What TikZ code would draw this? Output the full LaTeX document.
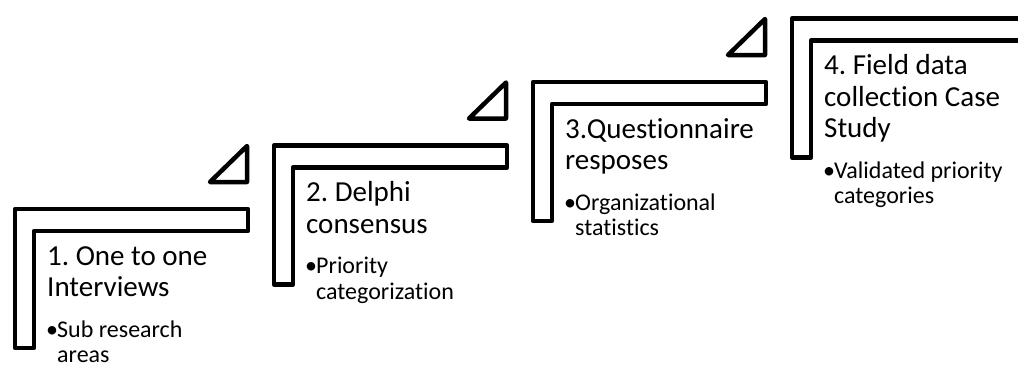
\documentclass[tikz,border=0pt]{standalone}
\usepackage{fontspec}
\setmainfont[Ligatures=NoCommon]{Carlito}
\frenchspacing
\tikzset{
  stepshape/.style={draw=black, line width=4.5pt, line join=round, fill=white},
  stepflag/.style={draw=black, line width=4.5pt, line join=round, fill=white},
  titletext/.style={font=\fontsize{29}{31.5}\selectfont, anchor=base west, inner sep=0pt, align=flush left, text width=230pt},
  bullettext/.style={font=\fontsize{24}{25.5}\selectfont, anchor=base west, inner sep=0pt, align=flush left, text width=230pt},
}
\newcommand{\bul}{\makebox[11pt][l]{•}}
\newcommand{\hang}{\hspace*{11pt}}
\begin{document}
\begin{tikzpicture}[x=1pt,y=-1pt]
\useasboundingbox (0,0) rectangle (1018,365);
\clip (0,0) rectangle (1018,365);
% step 1
\begin{scope}
  \draw[stepshape] (15,209) -- (248,209) -- (248,231) -- (34,231) -- (34,348) -- (15,348) -- cycle;
  \draw[stepflag] (247,146) -- (247,182) -- (210,182) -- cycle;
  \node[titletext] (t1) at (47,265) {1. One to one\\Interviews};
  \node[bullettext] (b1) at (46,337) {\bul Sub research\\\hang areas};
\end{scope}
% step 2
\begin{scope}[shift={(259,-63.5)}]
  \draw[stepshape] (15,209) -- (248,209) -- (248,231) -- (34,231) -- (34,348) -- (15,348) -- cycle;
  \draw[stepflag] (247,146) -- (247,182) -- (210,182) -- cycle;
  \node[titletext] (t2) at (47,265) {2. Delphi\\consensus};
  \node[bullettext] (b2) at (46,337) {\bul Priority\\\hang categorization};
\end{scope}
% step 3
\begin{scope}[shift={(518,-127)}]
  \draw[stepshape] (15,209) -- (248,209) -- (248,231) -- (34,231) -- (34,348) -- (15,348) -- cycle;
  \draw[stepflag] (247,146) -- (247,182) -- (210,182) -- cycle;
  \node[titletext] (t3) at (47,265) {3.Questionnaire\\resposes};
  \node[bullettext] (b3) at (46,337) {\bul Organizational\\\hang statistics};
\end{scope}
% step 4
\begin{scope}[shift={(777,-190.5)}]
  \draw[stepshape] (15,209) -- (248,209) -- (248,231) -- (34,231) -- (34,348) -- (15,348) -- cycle;
  \node[titletext] (t4) at (47,265) {4. Field data\\collection Case\\Study};
  \node[bullettext] (b4) at (46,368.5) {\bul Validated priority\\\hang categories};
\end{scope}
\end{tikzpicture}
\end{document}
